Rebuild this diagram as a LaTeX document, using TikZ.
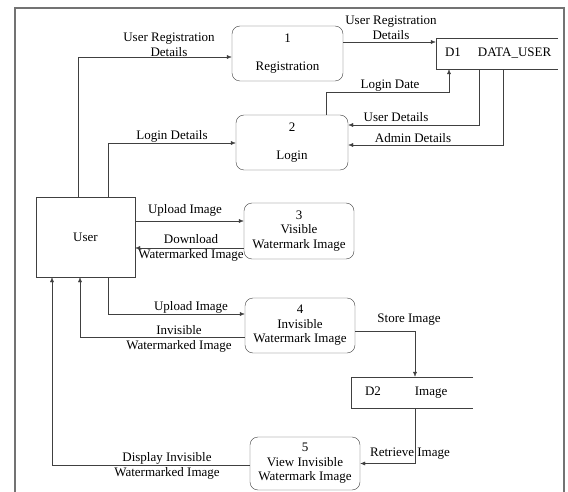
\documentclass[tikz,border=0pt]{standalone}
\usepackage{fontspec}
\setmainfont{Liberation Serif}
\usetikzlibrary{arrows.meta}
\usetikzlibrary{positioning}

\begin{document}
\begin{tikzpicture}[x=1pt,y=-1pt,
    font=\fontsize{13}{14.5}\selectfont,
    proc/.style={draw=black!75,rounded corners=8pt,align=center,inner sep=1pt,minimum width=110pt,minimum height=55pt},
    store/.style={inner xsep=9pt,minimum width=122pt,minimum height=31pt},
    flow/.style={draw=black!75,-{Latex[length=5pt,width=4pt]}},
    lbl/.style={align=center,inner sep=0pt}]

    \useasboundingbox (0,0) rectangle (568,492);
    \draw[black!55,line width=1.2pt] (15,500) -- (15,8) -- (564,8) -- (564,500);

    % external entity
    \node[draw=black!75,minimum width=99pt,minimum height=80pt] (user) at (85.5,237) {User};

    % processes
    \node[proc,minimum width=111pt] (p1) at (287.5,53.5) {1\\[14pt]Registration};
    \node[proc,minimum width=112pt] (p2) at (292,142.5) {2\\[14pt]Login};
    \node[proc,minimum height=56pt] (p3) at (299,231) {3\\Visible\\Watermark Image};
    \node[proc] (p4) at (300,325.5) {4\\Invisible\\Watermark Image};
    \node[proc,minimum height=53pt] (p5) at (305,463.5) {5\\View Invisible\\Watermark Image};

    % data stores
    \node[store] (d1) at (497,53.5) {\makebox[104pt][l]{D1\hspace{17pt}DATA\_USER}};
    \node[store] (d2) at (412,392.5) {\makebox[104pt][l]{\hspace{5pt}D2\hspace{34pt}Image}};
    \draw[black!75] (d1.north east) -- (d1.north west) -- (d1.south west) -- (d1.south east);
    \draw[black!75] (d2.north east) -- (d2.north west) -- (d2.south west) -- (d2.south east);

    % flows
    \draw[flow] ([xshift=-7.5pt]user.north) |- ([yshift=-3.5pt]p1.west);
    \draw[flow] ([xshift=22.5pt]user.north) |- ([yshift=-0.5pt]p2.west);
    \draw[flow] ([yshift=11.5pt]p1.east) -- ([yshift=11.5pt]d1.west);
    \draw[flow] ([xshift=34pt]p2.north) -- ++(0,-23) -| ([xshift=-48pt]d1.south);
    \draw[flow] ([xshift=-18pt]d1.south) |- ([yshift=17.5pt]p2.east);
    \draw[flow] ([xshift=6pt]d1.south) |- ([yshift=-2.5pt]p2.east);
    \draw[flow] ([yshift=16pt]user.east) -- ([yshift=16pt]user.east -| p3.west);
    \draw[flow] ([yshift=-17pt]p3.west) -- ([yshift=-17pt]p3.west -| user.east);
    \draw[flow] ([xshift=22.5pt]user.south) |- ([yshift=11.5pt]p4.west);
    \draw[flow] ([yshift=-11.5pt]p4.west) -| ([xshift=-5.5pt]user.south);
    \draw[flow] ([yshift=-5.5pt]p4.east) -| ([xshift=3pt]d2.north);
    \draw[flow] ([xshift=3pt]d2.south) |- (p5.east);
    \draw[flow] ([yshift=-1.5pt]p5.west) -| ([xshift=-33.5pt]user.south);

    % flow labels
    \node[lbl] (l1) at (169,45) {User Registration\\Details};
    \node[lbl] (l2) at (172,136) {Login Details};
    \node[lbl] (l3) at (391,28) {User Registration\\Details};
    \node[lbl] (l4) at (390,86) {Login Date};
    \node[lbl] (l5) at (396,117) {User Details};
    \node[lbl] (l6) at (413,138) {Admin Details};
    \node[lbl] (l7) at (185,210) {Upload Image};
    \node[lbl] (l8) at (191,248) {Download\\Watermarked Image};
    \node[lbl] (l9) at (191,307) {Upload Image};
    \node[lbl] (l10) at (179,339) {Invisible\\Watermarked Image};
    \node[lbl] (l11) at (409,320) {Store Image};
    \node[lbl] (l12) at (410,454) {Retrieve Image};
    \node[lbl] (l13) at (167,466) {Display Invisible\\Watermarked Image};

\end{tikzpicture}
\end{document}
